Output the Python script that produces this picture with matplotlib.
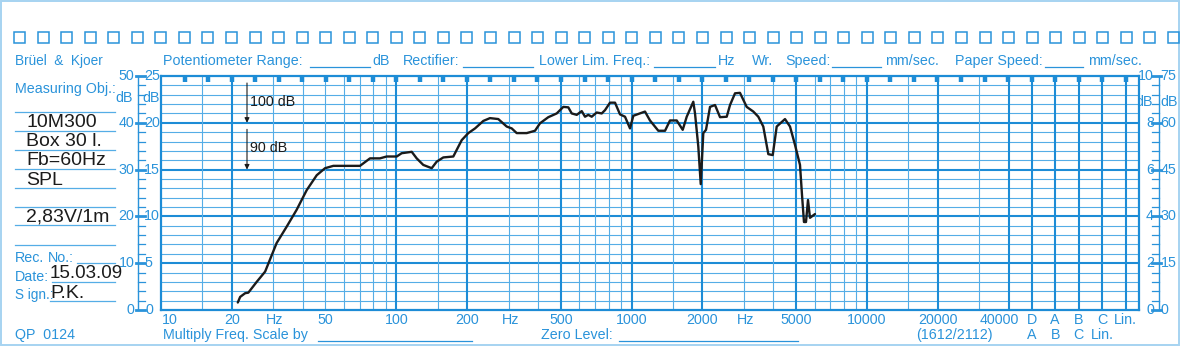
import numpy as np
import matplotlib
matplotlib.use('Agg')
import matplotlib.pyplot as plt
from matplotlib.lines import Line2D
from matplotlib.patches import Rectangle
from matplotlib.ticker import NullLocator
from matplotlib.transforms import blended_transform_factory as blend

plt.rcParams['font.family'] = ['Liberation Sans', 'DejaVu Sans']

# 10M300 in 30 l box, SPL at 2.83 V / 1 m
freq_hz = [21.2, 21.7, 22.8, 23.5, 25.5, 27.7, 31.0, 34.2, 37.7, 41.6,
           45.9, 49.8, 54.0, 70.1, 77.3, 85.2, 91.0, 100.4, 105.4, 116.3,
           122.1, 130.2, 141.4, 148.5, 158.4, 174.7, 189.7, 202.3, 216.1, 234.3,
           250.1, 271.3, 294.6, 309.4, 324.9, 358.3, 388.6, 408.1, 442.6, 480.5,
           512.7, 538.3, 556.6, 584.6, 613.8, 633.9, 654.6, 676.7, 710.7, 746.4,
           770.9, 809.5, 850.2, 892.8, 937.6, 984.5, 1017, 1140, 1197, 1299,
           1387, 1456, 1555, 1649, 1715, 1829, 1860, 1921, 1967, 2017,
           2071, 2154, 2262, 2376, 2537, 2620, 2751, 2888, 3084, 3291,
           3455, 3628, 3811, 3979, 4137, 4487, 4712, 4947, 5196, 5299,
           5402, 5510, 5619, 5730, 6016]
spl_db = [61.6, 62.8, 63.6, 63.7, 66.0, 68.2, 74.3, 77.8, 81.4, 85.6,
          88.8, 90.3, 90.8, 90.8, 92.4, 92.4, 92.8, 92.8, 93.5, 93.8,
          92.4, 91.0, 90.3, 91.7, 92.6, 92.8, 96.3, 97.8, 98.8, 100.4,
          101.0, 100.8, 99.2, 98.8, 97.8, 97.8, 98.3, 99.9, 101.2, 102.0,
          103.4, 103.3, 102.0, 101.7, 102.5, 101.3, 101.7, 101.3, 102.2, 102.0,
          102.7, 104.3, 104.3, 101.8, 101.3, 98.8, 101.5, 102.4, 100.5, 98.3,
          98.3, 100.5, 100.5, 98.5, 101.3, 104.5, 102.0, 94.9, 86.9, 97.8,
          98.5, 103.4, 103.8, 101.2, 101.3, 103.8, 106.3, 106.4, 103.4, 102.4,
          101.3, 99.2, 93.3, 93.1, 99.2, 100.8, 99.2, 95.3, 91.0, 84.6,
          78.8, 78.8, 83.5, 79.7, 80.5]

# paper scale: 50 dB range, zero line at 60 dB SPL
db_lo, db_hi = 60, 110
scale50 = ['0', '10', '20', '30', '40', '50']
scale25 = ['0', '5', '10', '15', '20', '25']
scale10 = ['0', '2', '4', '6', '8', '10']
scale75 = ['0', '15', '30', '45', '60', '75']

major_f = [20, 100, 200, 500, 1000, 2000, 5000, 10000, 20000, 40000]
minor_f = [15, 30, 40, 50, 60, 70, 80, 90, 150, 300, 400, 600, 700, 800, 900,
           1500, 3000, 4000, 6000, 7000, 8000, 9000, 15000, 30000]
label_f = [10, 20, 50, 100, 200, 500, 1000, 2000, 5000, 10000, 20000, 40000]
freq_labels = ['10', '20', '50', '100', '200', '500', '1000', '2000', '5000',
               '10000', '20000', '40000']
weighting_row1 = ['D', 'A', 'B', 'C', 'Lin.']
weighting_row2 = ['A', 'B', 'C', 'Lin.']

BLUE = '#2a93da'
GRID = '#1d8cd6'
THIN = '#55ade6'
PALE = '#a6d3f1'
INK = '#1b1b1b'

W, H = 1181, 347
fig = plt.figure(figsize=(W / 100, H / 100), dpi=100)
bg = fig.add_axes([0, 0, 1, 1], zorder=0)
bg.set_xlim(0, W)
bg.set_ylim(H, 0)
bg.axis('off')

# chart area in pixels, one decade = 235.3 px
L, R, T, B = 161, 1139, 76, 310
DEC = 235.3
ax = fig.add_axes([L / W, 1 - B / H, (R - L) / W, (B - T) / H], zorder=1)
ax.set_xscale('log')
ax.set_xlim(10, 10 ** (1 + (R - L) / DEC))
ax.set_ylim(db_lo, db_hi)
ax.xaxis.set_major_locator(NullLocator())
ax.xaxis.set_minor_locator(NullLocator())
ax.yaxis.set_major_locator(NullLocator())
for s in ax.spines.values():
    s.set_color(GRID)
    s.set_linewidth(1.6)

weight_pos = 10 ** np.array([4.7, 4.8, 4.9, 5.0, 5.1])

# grid
for v in range(db_lo + 2, db_hi, 2):
    major = (v - db_lo) % 10 == 0
    ax.axhline(v, color=GRID if major else THIN, lw=1.5 if major else 0.8, zorder=1)
ax.vlines(minor_f, db_lo, db_hi, color=THIN, lw=0.8, zorder=1)
ax.vlines(major_f + list(weight_pos), db_lo, db_hi, color=GRID, lw=1.5, zorder=2)
marks = 10 ** np.arange(1.1, 5.15, 0.1)
ax.vlines(marks, db_hi - 1.3, db_hi, color=GRID, lw=3.2, zorder=2)

# response curve
ax.plot(freq_hz, spl_db, color=INK, lw=1.7, solid_joinstyle='round',
        solid_capstyle='round', zorder=5)

# level markers
for top, lvl, txt in [(108.5, 100, '100 dB'), (98.6, 90, '90 dB')]:
    ax.annotate('', xy=(23.2, lvl), xytext=(23.2, top),
                arrowprops=dict(arrowstyle='-|>', color=INK, lw=0.8,
                                mutation_scale=7, shrinkA=0, shrinkB=0),
                zorder=6)
    ax.text(24.0, (top + lvl) / 2 + 0.3, txt, fontsize=10.3, color=INK,
            va='center', ha='left', zorder=6)

# frequency labels under the chart
xt = blend(ax.transData, bg.transData)
for f, s in zip(label_f, freq_labels):
    dx = {'10': 9, '40000': -9}.get(s, 0)
    ax.annotate(s, xy=(f, 320), xycoords=xt, xytext=(dx * 0.72, 0),
                textcoords='offset points', ha='center', va='center',
                fontsize=10.3, color=BLUE, annotation_clip=False)
for f in [30.5, 305, 3050]:
    ax.text(f, 320, 'Hz', transform=xt, ha='center', va='center',
            fontsize=10.3, color=BLUE)
for f, s in zip(weight_pos, weighting_row1):
    ax.text(f, 320, s, transform=xt, ha='center', va='center',
            fontsize=10.3, color=BLUE)
for f, s in zip(weight_pos[:4], weighting_row2):
    ax.text(f, 335, s, transform=xt, ha='center', va='center',
            fontsize=10.3, color=BLUE)


def hline(x0, x1, y, color=THIN, lw=0.9):
    bg.add_line(Line2D([x0, x1], [y, y], color=color, lw=lw))


def label(x, y, s, size=10.3, color=BLUE, ha='left'):
    bg.text(x, y, s, fontsize=size, color=color, ha=ha, va='center')


# left and right level scales
yt = blend(bg.transData, ax.transData)
for xline, tick_dir in [(138, 1), (1159, -1)]:
    bg.add_line(Line2D([xline, xline], [db_lo, db_hi], transform=yt,
                       color=BLUE, lw=1.0))
    for v in range(db_lo, db_hi + 1, 2):
        major = (v - db_lo) % 10 == 0
        x1 = xline + tick_dir * 7
        x0 = xline - tick_dir * (2 if major else 0)
        bg.add_line(Line2D([x0, x1], [v, v], transform=yt, color=BLUE,
                           lw=2.0 if major else 0.9))
for i, v in enumerate(range(db_lo, db_hi + 1, 10)):
    bg.text(134.5, v, scale50[i], transform=yt, fontsize=10.3, color=BLUE,
            ha='right', va='center')
    bg.text(146 if i == 0 else 144, v, scale25[i], transform=yt, fontsize=10.3,
            color=BLUE, ha='left', va='center')
    bg.text(1154, v, scale10[i], transform=yt, fontsize=10.3, color=BLUE,
            ha='right', va='center')
    bg.text(1160.5, v, scale75[i], transform=yt, fontsize=10.3, color=BLUE,
            ha='left', va='center')
label(133, 98, 'dB', ha='right')
label(142, 98, 'dB')
label(1153, 102, 'dB', ha='right')
label(1160, 102, 'dB')

# outer frame and sprocket squares
bg.add_patch(Rectangle((1, 1), 1178, 344, fill=False, ec=PALE, lw=1.4))
for k in range(50):
    bg.add_patch(Rectangle((14 + k * 23.55, 32), 11, 11, fill=False,
                           ec=BLUE, lw=1.1))

# header line
label(15, 61, 'Brüel  &  Kjoer', size=9.8)
label(163, 61, 'Potentiometer Range:')
hline(310, 370, 67, BLUE)
label(372, 61, 'dB')
label(403, 61, 'Rectifier:')
hline(463, 533, 67, BLUE)
label(539, 61, 'Lower Lim. Freq.:')
hline(654, 715, 67, BLUE)
label(718, 61, 'Hz')
label(752, 61, 'Wr.')
label(785, 61, 'Speed:')
hline(832, 881, 67, BLUE)
label(885, 61, 'mm/sec.')
label(955, 61, 'Paper Speed:')
hline(1045, 1083, 67, BLUE)
label(1088, 61, 'mm/sec.')

# record block on the left
label(15, 89, 'Measuring Obj.:')
for y in [112, 131, 150, 169, 188, 207, 225, 245]:
    hline(15, 115, y)
for y, s in [(122.5, '10M300'), (141, 'Box 30 l.'), (160, 'Fb=60Hz'),
             (180, 'SPL'), (217, '2,83V/1m')]:
    label(26, y, s, size=14, color=INK)
label(15, 258, 'Rec.')
label(48, 258, 'No.:')
hline(77, 115, 263)
label(15, 277, 'Date:')
hline(52, 115, 282)
label(15, 295, 'S ign.:', size=9.8)
hline(50, 115, 301)
label(50, 273.5, '15.03.09', size=13.5, color=INK)
label(50, 293, 'P.K.', size=14, color=INK)
label(15, 335, 'QP  0124')

# footer
label(163, 335, 'Multiply Freq. Scale by')
hline(318, 472, 341, BLUE)
label(541, 335, 'Zero Level:')
hline(619, 798, 341, BLUE)
label(954, 335, '(1612/2112)', ha='center')

fig.savefig('out.png', dpi=100)
